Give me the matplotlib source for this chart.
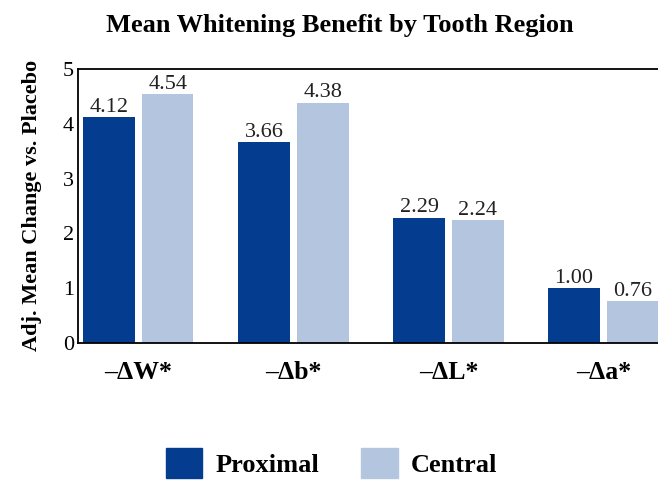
import matplotlib
matplotlib.use("Agg")
import matplotlib.pyplot as plt
import numpy as np
from matplotlib.patches import Patch

categories = ["\u2013\u0394W*", "\u2013\u0394b*", "\u2013\u0394L*", "\u2013\u0394a*"]
proximal = [4.12, 3.66, 2.29, 1.00]
central = [4.54, 4.38, 2.24, 0.76]
series_names = ["Proximal", "Central"]

DARK = "#043d8f"
LIGHT = "#b4c5df"

plt.rcParams["font.family"] = ["Liberation Serif", "DejaVu Serif"]

fig = plt.figure(figsize=(6.58, 4.8), dpi=100)
ax = fig.add_axes([0.1185, 0.2854, 0.8906, 0.5708])

x = np.arange(len(categories))
w = 0.33
off = 0.19
b1 = ax.bar(x - off, proximal, w, color=DARK)
b2 = ax.bar(x + off, central, w, color=LIGHT)

# value labels, baseline a few px above each bar
for bars, vals in ((b1, proximal), (b2, central)):
    for rect, v in zip(bars, vals):
        ax.annotate(f"{v:.2f}", (rect.get_x() + rect.get_width() / 2, v),
                    xytext=(0, 4), textcoords="offset points",
                    ha="center", va="baseline", fontsize=16, color="#222222")

ax.set_xlim(-0.39, 3.39)
ax.set_ylim(0, 5)
ax.set_xticks(x)
ax.set_xticklabels(categories, fontsize=18.5, fontweight="bold")
ax.set_yticks(range(6))
ax.tick_params(axis="y", length=0, pad=3, labelsize=16)
ax.tick_params(axis="x", length=0, pad=13)
for s in ("left", "bottom", "top"):
    ax.spines[s].set_linewidth(1.3)
ax.spines["right"].set_visible(False)

fig.text(0.049, 0.571, "Adj. Mean Change vs. Placebo", rotation=90,
         ha="center", va="center", fontsize=16, fontweight="bold")
fig.text(0.517, 0.933, "Mean Whitening Benefit by Tooth Region",
         ha="center", va="baseline", fontsize=19, fontweight="bold")

handles = [Patch(color=DARK), Patch(color=LIGHT)]
fig.legend(handles, series_names, loc="center", bbox_to_anchor=(0.504, 0.035),
           ncol=2, frameon=False, prop={"weight": "bold", "size": 19},
           handlelength=1.38, handleheight=1.38, handletextpad=0.5,
           columnspacing=1.6, borderpad=0)

fig.savefig("out.png", dpi=100)
